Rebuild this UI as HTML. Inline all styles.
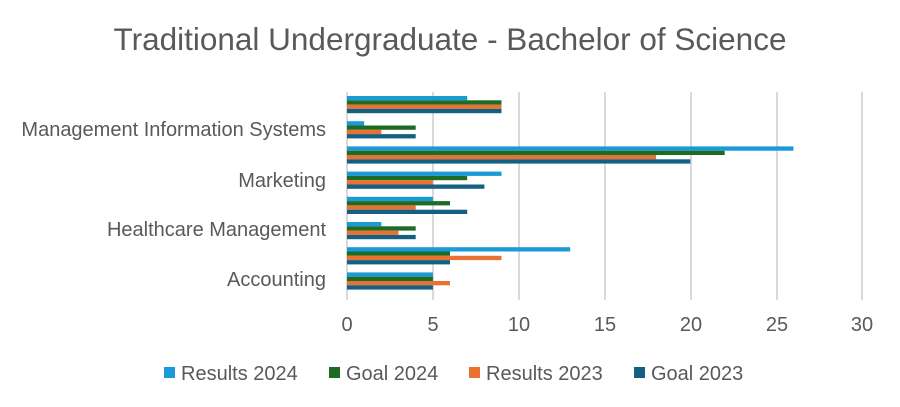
<!DOCTYPE html><html><head><style>body{margin:0;background:#fff}svg{display:block;font-family:"Liberation Sans",sans-serif}</style></head><body>
<svg width="900" height="407" viewBox="0 0 900 407">
<text x="450" y="50" text-anchor="middle" font-size="31.5" fill="#595959">Traditional Undergraduate - Bachelor of Science</text>
<g stroke="#d9d9d9" stroke-width="2">
<line x1="433" y1="92" x2="433" y2="300"/><line x1="519" y1="92" x2="519" y2="300"/><line x1="605" y1="92" x2="605" y2="300"/><line x1="691" y1="92" x2="691" y2="300"/><line x1="777" y1="92" x2="777" y2="300"/><line x1="862" y1="92" x2="862" y2="300"/>
<line x1="347" y1="92" x2="347" y2="300"/></g>
<g>
<rect x="347" y="96" width="120.2" height="4.3" fill="#1a9bd7"/><rect x="347" y="100.3" width="154.5" height="4.3" fill="#1e6b24"/><rect x="347" y="104.6" width="154.5" height="4.3" fill="#e97132"/><rect x="347" y="108.9" width="154.5" height="4.3" fill="#156082"/>
<rect x="347" y="121.2" width="17.2" height="4.3" fill="#1a9bd7"/><rect x="347" y="125.5" width="68.7" height="4.3" fill="#1e6b24"/><rect x="347" y="129.8" width="34.3" height="4.3" fill="#e97132"/><rect x="347" y="134.1" width="68.7" height="4.3" fill="#156082"/>
<rect x="347" y="146.4" width="446.4" height="4.3" fill="#1a9bd7"/><rect x="347" y="150.7" width="377.7" height="4.3" fill="#1e6b24"/><rect x="347" y="155" width="309.1" height="4.3" fill="#e97132"/><rect x="347" y="159.3" width="343.4" height="4.3" fill="#156082"/>
<rect x="347" y="171.6" width="154.5" height="4.3" fill="#1a9bd7"/><rect x="347" y="175.9" width="120.2" height="4.3" fill="#1e6b24"/><rect x="347" y="180.2" width="85.9" height="4.3" fill="#e97132"/><rect x="347" y="184.5" width="137.4" height="4.3" fill="#156082"/>
<rect x="347" y="196.8" width="85.9" height="4.3" fill="#1a9bd7"/><rect x="347" y="201.1" width="103" height="4.3" fill="#1e6b24"/><rect x="347" y="205.4" width="68.7" height="4.3" fill="#e97132"/><rect x="347" y="209.7" width="120.2" height="4.3" fill="#156082"/>
<rect x="347" y="222" width="34.3" height="4.3" fill="#1a9bd7"/><rect x="347" y="226.3" width="68.7" height="4.3" fill="#1e6b24"/><rect x="347" y="230.6" width="51.5" height="4.3" fill="#e97132"/><rect x="347" y="234.9" width="68.7" height="4.3" fill="#156082"/>
<rect x="347" y="247.2" width="223.2" height="4.3" fill="#1a9bd7"/><rect x="347" y="251.5" width="103" height="4.3" fill="#1e6b24"/><rect x="347" y="255.8" width="154.5" height="4.3" fill="#e97132"/><rect x="347" y="260.1" width="103" height="4.3" fill="#156082"/>
<rect x="347" y="272.4" width="85.9" height="4.3" fill="#1a9bd7"/><rect x="347" y="276.7" width="85.9" height="4.3" fill="#1e6b24"/><rect x="347" y="281" width="103" height="4.3" fill="#e97132"/><rect x="347" y="285.3" width="85.9" height="4.3" fill="#156082"/>
</g>
<g font-size="20" fill="#595959" text-anchor="end">
<text x="326" y="136">Management Information Systems</text>
<text x="326" y="187">Marketing</text>
<text x="326" y="236">Healthcare Management</text>
<text x="326" y="286">Accounting</text></g>
<g font-size="20" fill="#595959" text-anchor="middle">
<text x="347" y="331">0</text><text x="433" y="331">5</text><text x="519" y="331">10</text><text x="605" y="331">15</text><text x="691" y="331">20</text><text x="777" y="331">25</text><text x="862" y="331">30</text></g>
<g font-size="20" fill="#595959">
<rect x="164" y="367" width="11" height="11" fill="#1a9bd7"/><text x="181" y="380">Results 2024</text>
<rect x="329" y="367" width="11" height="11" fill="#1e6b24"/><text x="346" y="380">Goal 2024</text>
<rect x="469" y="367" width="11" height="11" fill="#e97132"/><text x="486" y="380">Results 2023</text>
<rect x="634" y="367" width="11" height="11" fill="#156082"/><text x="651" y="380">Goal 2023</text></g>
</svg></body></html>
